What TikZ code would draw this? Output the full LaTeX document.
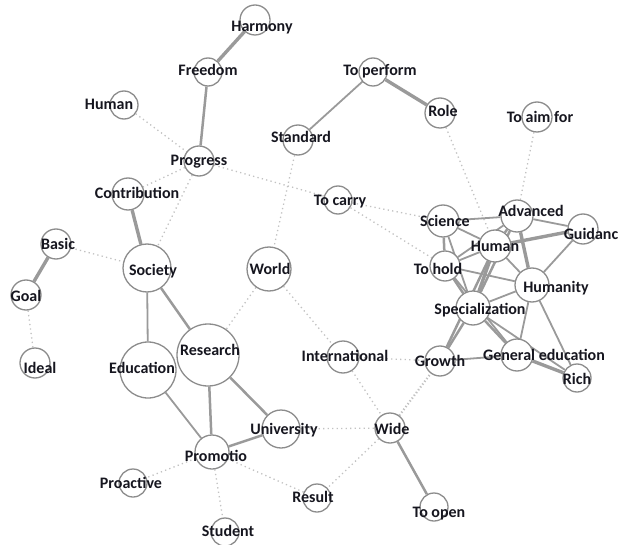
\documentclass[tikz,border=0pt]{standalone}
\usepackage{fontspec}
\setmainfont{Carlito}
\usetikzlibrary{backgrounds}
\definecolor{edgec}{HTML}{9A9A9A}
\definecolor{dotc}{HTML}{C2C2C2}
\definecolor{ringc}{HTML}{8C8C8C}
\definecolor{txtc}{HTML}{16161F}
\tikzset{
  circ/.style={circle, draw=ringc, fill=white, line width=1.3pt, inner sep=0pt},
  lab/.style={text=txtc, font=\fontsize{16}{17}\selectfont\bfseries, inner sep=0pt, text height=0.68em, text depth=0.2em, yshift=-2.5pt},
  eA/.style={draw=edgec, line width=1.8pt},
  eB/.style={draw=edgec, line width=2.5pt},
  eC/.style={draw=edgec, line width=3.4pt},
  dl/.style={draw=dotc, line width=1.3pt, dash pattern=on 1.3pt off 3.2pt},
  dlw/.style={draw=dotc, line width=2.2pt, dash pattern=on 1.3pt off 2.2pt},
}
\newcommand{\nd}[6]{\node[circ, minimum size=#4pt] (#1) at (#2,#3) {}; \node[lab] at (#5,#6) {\csname lbl#1\endcsname};}
\begin{document}
\begin{tikzpicture}[x=1pt,y=-1pt]
\useasboundingbox (0,0) rectangle (620,545);
\def\lblharmony{Harmony}\def\lblfreedom{Freedom}\def\lblhumanL{Human}\def\lblprogress{Progress}
\def\lblcontribution{Contribution}\def\lblstandard{Standard}\def\lbltoperform{To perform}\def\lblrole{Role}
\def\lbltoaim{To aim for}\def\lbltocarry{To carry}\def\lblscience{Science}\def\lbladvanced{Advanced}
\def\lblguidanc{Guidanc}\def\lblhumanR{Human}\def\lbltohold{To hold}\def\lblhumanity{Humanity}
\def\lblspecial{Specialization}\def\lblgrowth{Growth}\def\lblgeneral{General education}\def\lblrich{Rich}
\def\lblbasic{Basic}\def\lblsociety{Society}\def\lblworld{World}\def\lblgoal{Goal}\def\lblideal{Ideal}
\def\lbleducation{Education}\def\lblresearch{Research}\def\lblinternational{International}
\def\lbluniversity{University}\def\lblpromotio{Promotio}\def\lblwide{Wide}\def\lblproactive{Proactive}
\def\lblresult{Result}\def\lbltoopen{To open}\def\lblstudent{Student}
\nd{harmony}{255}{20}{30}{262}{27}
\nd{freedom}{208}{72}{28}{208}{71}
\nd{humanL}{124}{105}{28}{109}{105}
\nd{progress}{199}{161}{30}{199}{161}
\nd{contribution}{128}{194}{32}{137}{194}
\nd{standard}{298}{140}{30}{301}{138}
\nd{toperform}{373}{72}{28}{380}{71}
\nd{role}{440}{113}{30}{443}{112}
\nd{toaim}{537}{117}{30}{540}{118}
\nd{tocarry}{338}{200}{28}{340}{201}
\nd{science}{443}{221}{32}{445}{222}
\nd{advanced}{517}{216}{32}{531}{212}
\nd{guidanc}{583}{229}{30}{591}{235}
\nd{humanR}{495}{246}{32}{495}{247}
\nd{tohold}{445}{266}{30}{438}{270}
\nd{humanity}{532}{285}{34}{556}{288}
\nd{special}{473}{308}{34}{480}{310}
\nd{growth}{440}{361}{30}{440}{362}
\nd{general}{517}{355}{32}{544}{356}
\nd{rich}{577}{378}{28}{577}{380}
\nd{basic}{56}{244}{30}{58}{245}
\nd{society}{147}{268}{48}{153}{271}
\nd{world}{269}{269}{44}{270}{270}
\nd{goal}{26}{295}{30}{26}{297}
\nd{ideal}{35}{363}{30}{40}{369}
\nd{education}{148}{370}{56}{142}{369}
\nd{research}{208}{355}{62}{210}{351}
\nd{international}{343}{357}{32}{345}{357}
\nd{university}{281}{429}{38}{284}{430}
\nd{promotio}{212}{452}{34}{216}{457}
\nd{wide}{390}{428}{30}{392}{430}
\nd{proactive}{133}{483}{28}{131}{484}
\nd{result}{317}{498}{28}{313}{498}
\nd{toopen}{434}{507}{28}{439}{513}
\nd{student}{225}{532}{28}{228}{532}
\begin{scope}[on background layer]
% solid
\draw[eC] (harmony) -- (freedom);
\draw[eB] (freedom) -- (progress);
\draw[eA] (toperform) -- (standard);
\draw[eC] (toperform) -- (role);
\draw[eC] (contribution) -- (society);
\draw[eC] (basic) -- (goal);
\draw[eA] (society) -- (education);
\draw[eB] (society) -- (research);
\draw[eA] (education) -- (promotio);
\draw[eB] (research) -- (promotio);
\draw[eB] (research) -- (university);
\draw[eB] (university) -- (promotio);
\draw[eB] (wide) -- (toopen);
% cluster
\draw[eA] (science) -- (advanced);
\draw[eA] (science) -- (humanR);
\draw[eB] (science) -- (tohold);
\draw[eA] (science) -- (special);
\draw[eA] (advanced) -- (guidanc);
\draw[eB] (advanced) -- (humanR);
\draw[eC] (advanced) -- (humanity);
\draw[eB] (advanced) -- (special);
\draw[eA] (advanced) -- (tohold);
\draw[eC] (humanR) -- (guidanc);
\draw[eA] (humanR) -- (tohold);
\draw[eA] (humanR) -- (humanity);
\draw[eC] (humanR) -- (special);
\draw[eB] (humanR) -- (growth);
\draw[eA] (guidanc) -- (humanity);
\draw[eA] (tohold) -- (humanity);
\draw[eB] (tohold) -- (special);
\draw[eA] (tohold) -- (general);
\draw[eA] (special) -- (humanity);
\draw[eB] (special) -- (growth);
\draw[eB] (special) -- (general);
\draw[eA] (humanity) -- (general);
\draw[eA] (humanity) -- (rich);
\draw[eA] (growth) -- (general);
\draw[eC] (general) -- (rich);
\draw[eA] (special) -- (rich);
% dotted
\draw[dl] (humanL) -- (progress);
\draw[dl] (progress) -- (contribution);
\draw[dl] (progress) -- (society);
\draw[dl] (progress) -- (tocarry);
\draw[dl] (tocarry) -- (science);
\draw[dl] (tocarry) -- (tohold);
\draw[dl] (standard) -- (world);
\draw[dl] (basic) -- (society);
\draw[dl] (goal) -- (ideal);
\draw[dl] (world) -- (research);
\draw[dl] (world) -- (international);
\draw[dl] (international) -- (wide);
\draw[dl] (international) -- (growth);
\draw[dl] (university) -- (wide);
\draw[dlw] (wide) -- (growth);
\draw[dl] (wide) -- (result);
\draw[dl] (promotio) -- (proactive);
\draw[dl] (promotio) -- (student);
\draw[dl] (promotio) -- (result);
\draw[dl] (role) -- (humanR);
\draw[dl] (toaim) -- (advanced);
\end{scope}
\end{tikzpicture}
\end{document}
